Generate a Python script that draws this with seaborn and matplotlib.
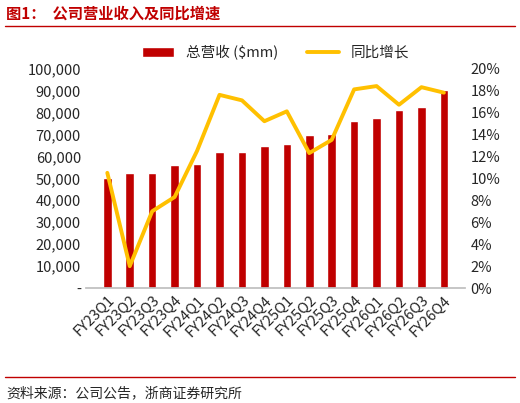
import matplotlib
matplotlib.use('Agg')
import matplotlib.pyplot as plt
import seaborn as sns
import pandas as pd
from matplotlib.ticker import FuncFormatter

quarters = ['FY23Q1', 'FY23Q2', 'FY23Q3', 'FY23Q4', 'FY24Q1', 'FY24Q2', 'FY24Q3', 'FY24Q4',
            'FY25Q1', 'FY25Q2', 'FY25Q3', 'FY25Q4', 'FY26Q1', 'FY26Q2', 'FY26Q3', 'FY26Q4']
revenue = [50000, 52500, 52500, 56000, 56500, 62000, 62000, 64500,
           65500, 69500, 70000, 76000, 77500, 81000, 82500, 90000]
yoy = [10.5, 2.0, 7.0, 8.3, 12.5, 17.6, 17.1, 15.2,
       16.1, 12.3, 13.5, 18.1, 18.4, 16.7, 18.3, 17.8]

df = pd.DataFrame({'q': quarters, 'rev': revenue, 'yoy': yoy})

sns.set_theme(style='white')
plt.rcParams['font.family'] = ['Noto Sans CJK SC', 'DejaVu Sans']

fig = plt.figure(figsize=(5.2, 4.03), dpi=100)
ax = fig.add_axes([0.165, 0.285, 0.73, 0.545])

sns.barplot(data=df, x='q', y='rev', color='#C00000', width=0.38, ax=ax,
            label='总营收 ($mm)', saturation=1)
ax.set_ylim(0, 100000)
ax.set_yticks(range(0, 100001, 10000))
ax.yaxis.set_major_formatter(FuncFormatter(lambda v, p: '-' if v == 0 else f'{int(v):,}'))
ax.set_xlabel('')
ax.set_ylabel('')
ax.tick_params(axis='x', rotation=45, labelsize=10.5, length=0)
ax.tick_params(axis='y', labelsize=10.5, length=0)
for lab in ax.get_xticklabels():
    lab.set_ha('right')
    lab.set_rotation_mode('anchor')
for s in ['top', 'right', 'left']:
    ax.spines[s].set_visible(False)
ax.spines['bottom'].set_color('#bfbfbf')

ax2 = ax.twinx()
sns.lineplot(x=range(len(quarters)), y=yoy, color='#FFC000', linewidth=2.8, ax=ax2,
             label='同比增长')
ax2.set_ylim(0, 20)
ax2.set_yticks(range(0, 21, 2))
ax2.yaxis.set_major_formatter(FuncFormatter(lambda v, p: f'{int(v)}%'))
ax2.tick_params(axis='y', labelsize=10.5, length=0)
for s in ['top', 'right', 'left', 'bottom']:
    ax2.spines[s].set_visible(False)
ax2.get_legend().remove()

h1, l1 = ax.get_legend_handles_labels()
h2, l2 = ax2.get_legend_handles_labels()
ax.legend(h1 + h2, l1 + l2, loc='lower center', bbox_to_anchor=(0.5, 0.98), ncol=2,
          frameon=False, fontsize=10.5, handlelength=2.2, columnspacing=2)

fig.text(0.012, 0.955, '图1：  公司营业收入及同比增速', color='#C00000', fontsize=11, fontweight='bold')
fig.add_artist(plt.Line2D([0.01, 0.99], [0.935, 0.935], color='#C00000', linewidth=1))
fig.add_artist(plt.Line2D([0.01, 0.99], [0.065, 0.065], color='#C00000', linewidth=1))
fig.text(0.012, 0.015, '资料来源：公司公告，浙商证券研究所', fontsize=10)

fig.savefig('out.png', dpi=100)
